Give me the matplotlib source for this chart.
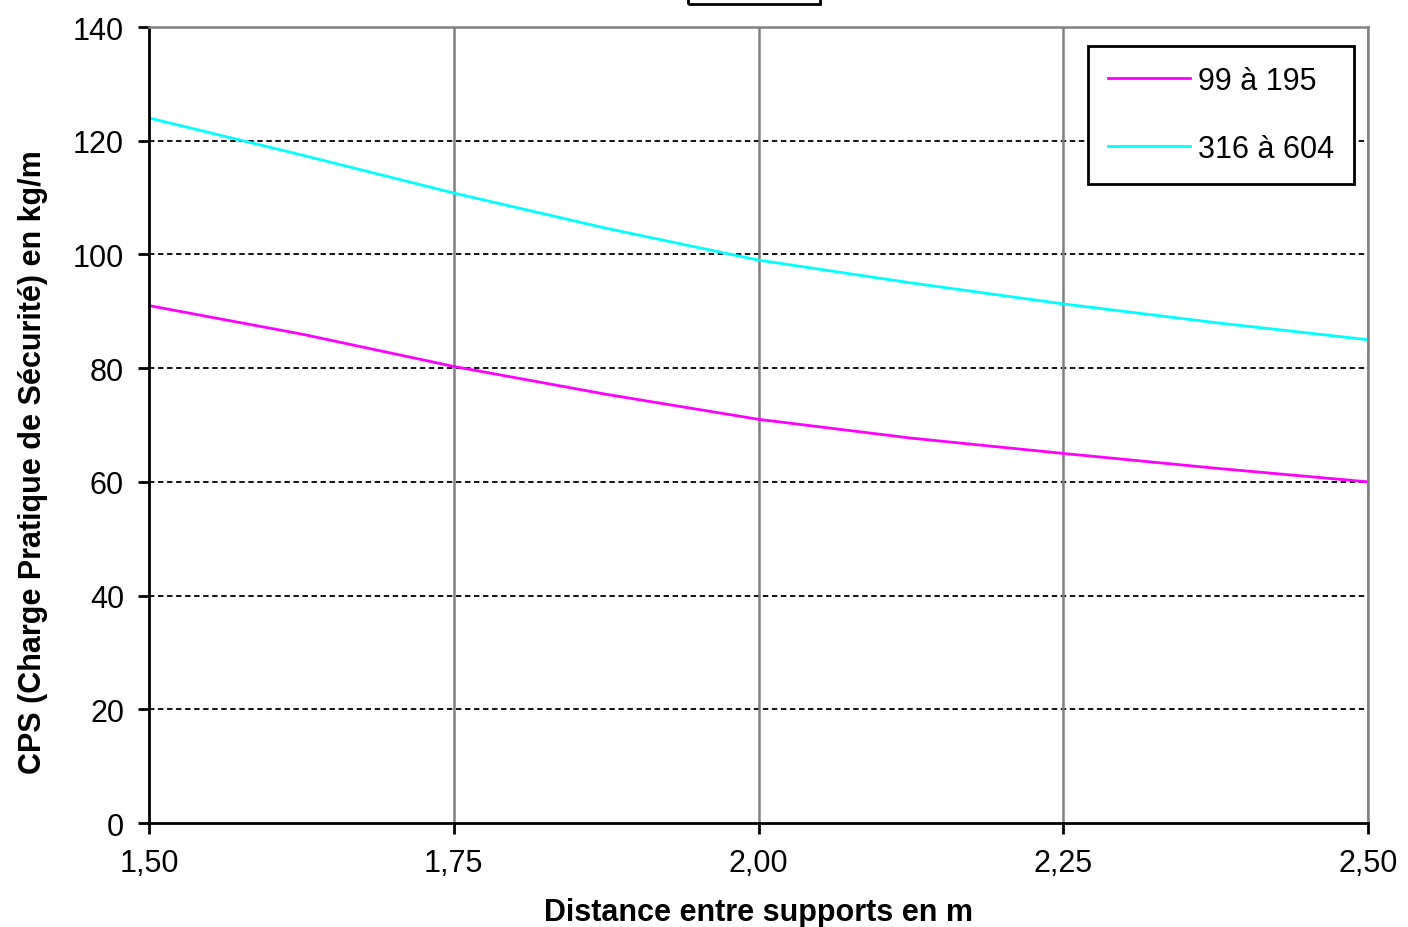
import matplotlib
matplotlib.use("Agg")
import matplotlib.pyplot as plt
from matplotlib.patches import Rectangle

plt.rcParams['font.family'] = ['Liberation Sans', 'DejaVu Sans']

# distance entre supports (m)
distance = [1.5, 1.625, 1.75, 1.875, 2.0, 2.125, 2.25, 2.375, 2.5]
# CPS en kg/m
cps_99_195 = [91, 86, 80.3, 75.4, 71, 67.7, 65, 62.4, 60]
cps_316_604 = [124, 117.5, 110.8, 104.6, 99, 95, 91.3, 88, 85]

x_ticks = [1.5, 1.75, 2.0, 2.25, 2.5]
x_labels = ["1,50", "1,75", "2,00", "2,25", "2,50"]
y_ticks = [0, 20, 40, 60, 80, 100, 120, 140]

fig = plt.figure(figsize=(14.08, 9.28), dpi=100)
ax = fig.add_axes([149 / 1408, 1 - 824 / 928, 1219 / 1408, 796 / 928])

ax.plot(distance, cps_99_195, color="#ff00ff", linewidth=2, label="99 à 195")
ax.plot(distance, cps_316_604, color="#00ffff", linewidth=2, label="316 à 604")

ax.set_xlim(1.5, 2.5)
ax.set_ylim(0, 140)
ax.set_xticks(x_ticks)
ax.set_xticklabels(x_labels)
ax.set_yticks(y_ticks)

for y in y_ticks[1:-1]:
    ax.axhline(y, color="black", linestyle=(0, (3, 2)), linewidth=1.3, zorder=0)
for x in x_ticks[1:]:
    ax.axvline(x, color="#808080", linewidth=1.8, zorder=0)

ax.spines['top'].set_color("#808080")
ax.spines['top'].set_linewidth(1.8)
ax.spines['right'].set_color("#808080")
ax.spines['right'].set_linewidth(1.8)
ax.spines['left'].set_linewidth(2)
ax.spines['bottom'].set_linewidth(2)

ax.tick_params(axis='both', direction='out', length=8, width=2, labelsize=22, colors='black')
ax.tick_params(axis='x', pad=10)
ax.tick_params(axis='y', pad=10)

ax.set_xlabel("Distance entre supports en m", fontsize=22, fontweight='bold', labelpad=14)
fig.text(33 / 1408, 1 - 462 / 928, "CPS (Charge Pratique de Sécurité) en kg/m",
         fontsize=22, fontweight='bold', rotation=90, ha='center', va='center')

leg = ax.legend(loc='upper right', bbox_to_anchor=(1354 / 1408, 1 - 47 / 928),
                bbox_transform=fig.transFigure, fontsize=22, frameon=True, fancybox=False,
                handlelength=2.7, handletextpad=0.25, labelspacing=1.25,
                borderpad=0.65, borderaxespad=0)
leg.get_frame().set_edgecolor("black")
leg.get_frame().set_linewidth(2)
leg.get_frame().set_alpha(1)

# boîte de titre coupée en haut
fig.patches.append(Rectangle((688 / 1408, 1 - 5 / 928), 132 / 1408, 0.05,
                             transform=fig.transFigure, fill=False,
                             edgecolor="black", linewidth=2))

fig.savefig("out.png", dpi=100)
